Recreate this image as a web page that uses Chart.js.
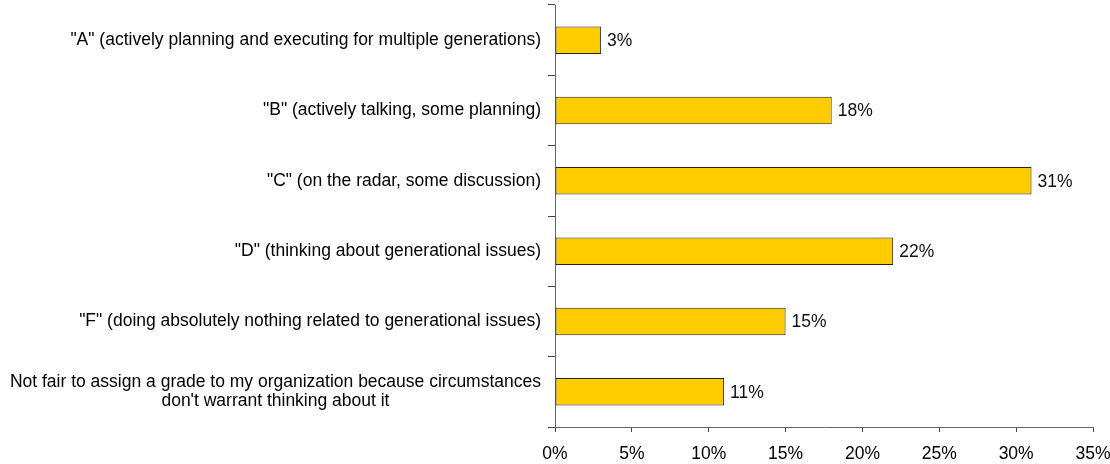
<!DOCTYPE html>
<html>
<head>
<meta charset="utf-8">
<script src="https://cdn.jsdelivr.net/npm/chart.js@4.4.1/dist/chart.umd.min.js"></script>
<style>
  html, body { margin: 0; padding: 0; background: #fff; }
  #wrap { width: 1110px; height: 464px; }
</style>
</head>
<body>
<div id="wrap"><canvas id="gradeChart" width="1110" height="464"></canvas></div>
<script>
// survey answers, one entry per grade (wrapped labels are arrays of lines)
const categories = [
    '"A" (actively planning and executing for multiple generations)',
    '"B" (actively talking, some planning)',
    '"C" (on the radar, some discussion)',
    '"D" (thinking about generational issues)',
    '"F" (doing absolutely nothing related to generational issues)',
    ['Not fair to assign a grade to my organization because circumstances', "don't warrant thinking about it"]
];
const percentages = [3, 18, 31, 22, 15, 11];
const xTicks = [0, 5, 10, 15, 20, 25, 30, 35];

const FONT = '"Liberation Sans", Arial, sans-serif';
const FONT_SIZE = 17.5;

// category names drawn left of the axis; wrapped names are centered on their widest line
const categoryLabels = {
    id: 'categoryLabels',
    afterDraw(chart) {
        const ctx = chart.ctx;
        const yScale = chart.scales.y;
        const right = chart.chartArea.left - 14;
        ctx.save();
        ctx.font = FONT_SIZE + 'px ' + FONT;
        ctx.fillStyle = '#000';
        ctx.textBaseline = 'middle';
        categories.forEach((label, i) => {
            const lines = Array.isArray(label) ? label : [label];
            const widest = Math.max(...lines.map(l => ctx.measureText(l).width));
            const center = right - widest / 2;
            const lineHeight = 19.5;
            const y0 = yScale.getPixelForValue(i) - (lines.length - 1) * lineHeight / 2;
            ctx.textAlign = 'center';
            lines.forEach((l, j) => ctx.fillText(l, center, y0 + j * lineHeight));
        });
        ctx.restore();
    }
};

// percentage printed just past the end of each bar
const valueLabels = {
    id: 'valueLabels',
    afterDatasetsDraw(chart) {
        const ctx = chart.ctx;
        const meta = chart.getDatasetMeta(0);
        ctx.save();
        ctx.font = FONT_SIZE + 'px ' + FONT;
        ctx.fillStyle = '#111';
        ctx.textAlign = 'left';
        ctx.textBaseline = 'middle';
        meta.data.forEach((bar, i) => {
            ctx.fillText(percentages[i] + '%', bar.x + 6, bar.y + 1);
        });
        ctx.restore();
    }
};

new Chart(document.getElementById('gradeChart').getContext('2d'), {
    type: 'bar',
    data: {
        labels: categories,
        datasets: [{
            data: percentages,
            backgroundColor: '#FFCC00',
            borderColor: '#222',
            borderWidth: 1,
            borderSkipped: false,
            categoryPercentage: 1,
            barPercentage: 0.39
        }]
    },
    options: {
        indexAxis: 'y',
        responsive: false,
        animation: false,
        devicePixelRatio: 1,
        layout: { padding: { top: 5, right: 0, left: 0, bottom: 0 } },
        plugins: {
            legend: { display: false },
            tooltip: { enabled: false }
        },
        scales: {
            x: {
                min: 0,
                max: 35,
                afterBuildTicks: scale => { scale.ticks = xTicks.map(v => ({ value: v })); },
                afterFit: scale => {
                    scale.height = 37;
                    scale.paddingRight = 17; // room for the "35%" label only
                },
                ticks: {
                    color: '#000',
                    padding: 12,
                    font: { family: FONT, size: FONT_SIZE },
                    callback: v => v + '%'
                },
                grid: { drawOnChartArea: false, tickLength: 5, color: '#444' },
                border: { color: '#666', width: 1 }
            },
            y: {
                afterFit: scale => { scale.width = 555; },
                ticks: { display: false },
                grid: { offset: true, drawOnChartArea: false, tickLength: 7, color: '#444' },
                border: { color: '#666', width: 1 }
            }
        }
    },
    plugins: [categoryLabels, valueLabels]
});
</script>
</body>
</html>
